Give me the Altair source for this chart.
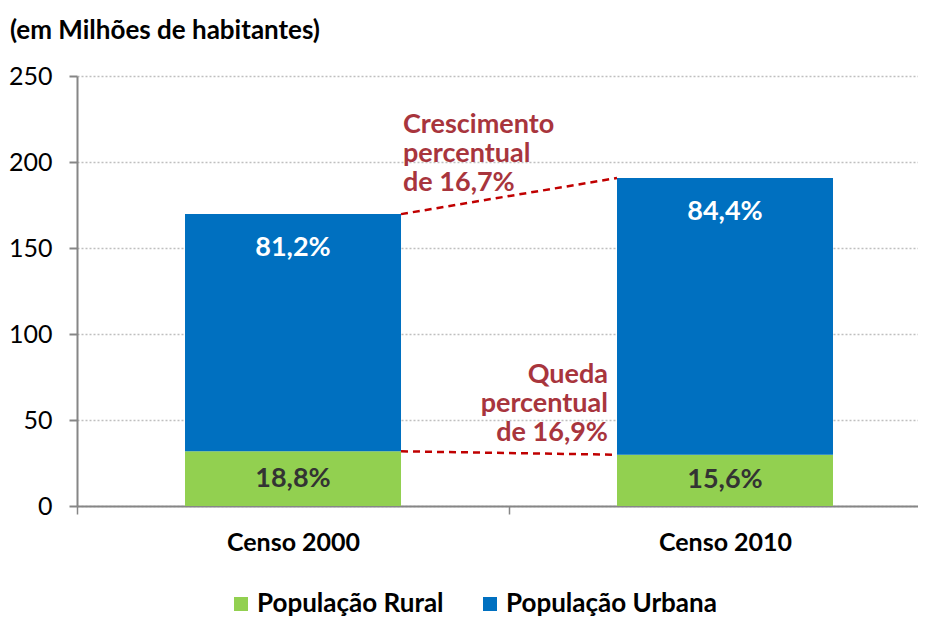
import altair as alt
import pandas as pd

categories = ["Censo 2000", "Censo 2010"]
series = ["População Rural", "População Urbana"]
rural = [31.8, 29.8]
urbana = [137.9, 160.9]
rural_pct = ["18,8%", "15,6%"]
urbana_pct = ["81,2%", "84,4%"]
growth_text = ["Crescimento", "percentual", "de 16,7%"]
drop_text = ["Queda", "percentual", "de 16,9%"]
y_ticks = [0, 50, 100, 150, 200, 250]
colors = ["#92D050", "#0070C0"]
title_text = "(em Milhões de habitantes)"

FONT = "Lato"
RED_TEXT = "#A8353D"

rows = []
for c, r, u in zip(categories, rural, urbana):
    rows.append({"cat": c, "serie": series[0], "valor": r})
    rows.append({"cat": c, "serie": series[1], "valor": u})
df = pd.DataFrame(rows)

lab = pd.DataFrame({"cat": categories, "rural": rural, "urbana": urbana,
                    "rp": rural_pct, "up": urbana_pct})
lab["total"] = lab["rural"] + lab["urbana"]
lab["rural_mid"] = lab["rural"] / 2

conn = pd.DataFrame({
    "from": [categories[0], categories[0]],
    "to": [categories[1], categories[1]],
    "y1": [lab["total"][0], rural[0]],
    "y2": [lab["total"][1], rural[1]],
})
growth_df = pd.DataFrame({"cat": [categories[0]], "y": [lab["total"][0]]})
drop_df = pd.DataFrame({"cat": [categories[1]], "y": [rural[1]]})

xscale = alt.Scale(domain=categories, paddingInner=0.5, paddingOuter=0.2234, align=0.5596)
yscale = alt.Scale(domain=[0, 250], nice=False)

xaxis = alt.Axis(tickOffset=-216, labelOffset=216, tickExtra=True,
                 labelFont=FONT, labelFontSize=25, labelFontWeight="bold",
                 labelColor="black", labelPadding=16, tickSize=8, tickColor="#868686",
                 tickWidth=1.5, domainColor="#868686", domainWidth=2, labelAngle=0,
                 grid=False, title=None)
yaxis = alt.Axis(values=y_ticks, labelFont=FONT, labelFontSize=25, labelColor="black",
                 labelPadding=17, tickSize=8, tickColor="#868686", tickWidth=2,
                 domainColor="#868686", domainWidth=2, grid=True, gridColor="#BFBFBF",
                 gridDash=[2, 2], gridWidth=1.5, title=None)

legend = alt.Legend(orient="none", legendX=151, legendY=515, direction="horizontal",
                    title=None, symbolType="square", symbolSize=196, symbolStrokeWidth=0,
                    labelFont=FONT, labelFontSize=26, labelFontWeight="bold",
                    labelColor="black", labelOffset=3, columnPadding=33, labelLimit=400)

bars = alt.Chart(df).mark_bar().encode(
    x=alt.X("cat:N", scale=xscale, axis=xaxis, sort=categories),
    y=alt.Y("valor:Q", stack="zero", scale=yscale, axis=yaxis),
    color=alt.Color("serie:N", scale=alt.Scale(domain=series, range=colors), legend=legend),
    order=alt.Order("serie:N", sort="ascending"),
)

rural_lbl = alt.Chart(lab).mark_text(font=FONT, fontSize=27, fontWeight="bold",
                                     color="#333333", baseline="middle").encode(
    x=alt.X("cat:N", scale=xscale), y=alt.Y("rural_mid:Q", scale=yscale), text="rp:N")

urb_lbl = alt.Chart(lab).mark_text(font=FONT, fontSize=27, fontWeight="bold",
                                   color="white", baseline="middle", dy=34).encode(
    x=alt.X("cat:N", scale=xscale), y=alt.Y("total:Q", scale=yscale), text="up:N")

conn_rule = alt.Chart(conn).mark_rule(color="#C00000", strokeDash=[7, 5], strokeWidth=2.5).encode(
    x=alt.X("from:N", scale=xscale, bandPosition=1),
    x2=alt.X2("to:N", bandPosition=0),
    y=alt.Y("y1:Q", scale=yscale),
    y2="y2:Q",
)

growth = alt.Chart(growth_df).mark_text(text=growth_text, align="left", baseline="alphabetic",
                                        dx=2, dy=-81, lineHeight=29, font=FONT, fontSize=27,
                                        fontWeight="bold", color=RED_TEXT).encode(
    x=alt.X("cat:N", scale=xscale, bandPosition=1), y=alt.Y("y:Q", scale=yscale))

drop = alt.Chart(drop_df).mark_text(text=drop_text, align="right", baseline="alphabetic",
                                    dx=-9, dy=-72, lineHeight=29, font=FONT, fontSize=27,
                                    fontWeight="bold", color=RED_TEXT).encode(
    x=alt.X("cat:N", scale=xscale, bandPosition=0), y=alt.Y("y:Q", scale=yscale))

chart = alt.layer(bars, conn_rule, rural_lbl, urb_lbl, growth, drop).properties(
    width=841, height=430,
    title=alt.Title(title_text, anchor="start", frame="group", dx=-67, dy=-20, offset=0,
                    font=FONT, fontSize=26, fontWeight="bold", color="black"),
    autosize=alt.AutoSizeParams(type="none"),
    padding={"left": 69, "top": 68, "right": 0, "bottom": 112},
).configure_view(stroke=None)

chart.save("out.html", embed_options={"renderer": "svg", "actions": False})
